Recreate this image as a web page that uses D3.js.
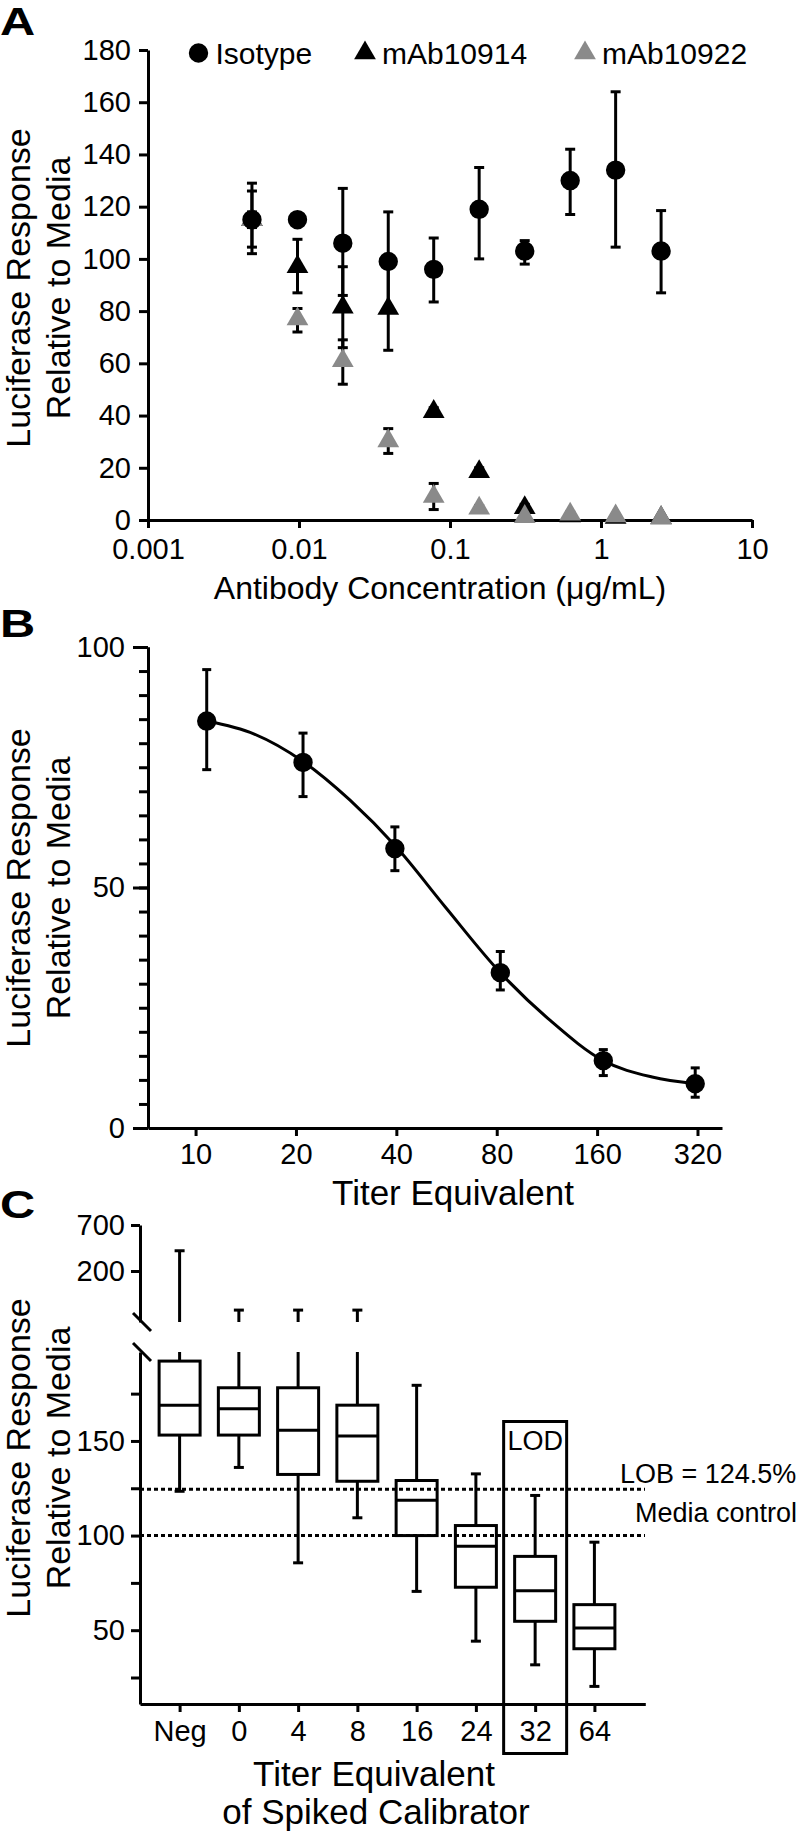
<!DOCTYPE html>
<html><head><meta charset="utf-8">
<script src="https://cdn.jsdelivr.net/npm/d3@7"></script>
<style>body{margin:0;background:#fff} svg{display:block}</style>
</head><body>
<svg id="c" width="798" height="1833"></svg>
<script>
// ---------- Panel A data ----------
const concA = [0.00488, 0.00977, 0.0195, 0.039, 0.078, 0.156, 0.3125, 0.625, 1.25, 2.5];
const isoMean = [115, 115, 106, 99, 96, 119, 103, 130, 134, 103];
const isoLo   = [102, 113, 86, 80, 83.5, 100, 98, 117, 104.5, 87];
const isoHi   = [129, 117, 127, 118, 108, 135, 107, 142, 164, 118.5];
const m14Mean = [115, 97, 81.5, 81, 41.5, 18.5, 4.7, 1.5, 1, 0.8];
const m14Lo   = [104.5, 87, 66, 65, 40, 17, 3.5, 1, 0.5, 0.5];
const m14Hi   = [126, 107.5, 97, 97, 43, 20, 6, 2, 1.5, 1];
const m22Mean = [115, 77, 61, 30.3, 9, 4.5, 1.3, 2.2, 1.5, 0.9];
const m22Lo   = [112, 72, 52, 25.5, 4, 3.5, 0.5, 1.5, 1, 0.5];
const m22Hi   = [118, 81, 69, 35, 14, 5.5, 2, 3, 2, 1.5];
const yTicksA = [0, 20, 40, 60, 80, 100, 120, 140, 160, 180];
const xTicksA = [0.001, 0.01, 0.1, 1, 10];
const xTickLabelsA = ["0.001", "0.01", "0.1", "1", "10"];
const legendA = ["Isotype", "mAb10914", "mAb10922"];

// ---------- Panel B data ----------
const titerB = [10.8, 21, 39.6, 82, 167, 315];
const meanB  = [84.6, 76.0, 58.1, 32.3, 14.0, 9.2];
const loB    = [74.5, 68.9, 53.5, 28.7, 10.9, 6.4];
const hiB    = [95.3, 82.1, 62.6, 36.7, 16.3, 12.5];
const curveXB = [10.8, 15, 21, 29, 40, 56, 82, 116, 167, 234, 315];
const curveYB = [84.6, 81.9, 76.2, 68.2, 58.4, 46.0, 32.3, 22.3, 14.0, 10.6, 9.2];
const xTicksB = [10, 20, 40, 80, 160, 320];
const yMajorB = [0, 50, 100];

// ---------- Panel C data ----------
const catsC = ["Neg", "0", "4", "8", "16", "24", "32", "64"];
const whLoC  = [123.4, 136, 85.6, 109.4, 70.5, 44.2, 31.7, 20.3];
const q1C    = [153.1, 153.1, 132.3, 128.7, 100, 72.7, 54.7, 40.2];
const medC   = [168.9, 167, 155.7, 152.6, 118.7, 94.3, 70.9, 51.2];
const q3C    = [192.2, 178.1, 178.1, 168.9, 129.1, 105.3, 89.0, 63.5];
const whHiC  = [420, 197.7, 197.7, 197.7, 179.4, 132.6, 121.2, 96.5];
const lobValue = 124.5;
const mediaValue = 100;
const yTicksUpperC = [200, 700];
const yTicksLowerC = [25, 50, 75, 100, 125, 150, 175];
const yLabelsLowerC = [50, 100, 150];

// ---------- helpers ----------
const FONT = '"Liberation Sans", Arial, Helvetica, sans-serif';
const svg = d3.select("#c");
const GRAY = "#8a8a8a";
const TICK_FS = 29;

function styleAxis(g, fs) {
  g.select(".domain").attr("stroke", "#000").attr("stroke-width", 3);
  g.selectAll(".tick line").attr("stroke", "#000").attr("stroke-width", 3);
  g.selectAll("text").attr("font-family", FONT).attr("font-size", fs).attr("fill", "#000");
}
function text(x, y, s, fs, anchor, weight) {
  return svg.append("text").attr("x", x).attr("y", y).text(s)
    .attr("font-family", FONT).attr("font-size", fs)
    .attr("text-anchor", anchor || "start").attr("font-weight", weight || "normal");
}
function panelLetter(y, s) {
  svg.append("text").attr("transform", `translate(0,${y}) scale(1.25,1)`)
    .attr("font-family", FONT).attr("font-size", 39).attr("font-weight", "bold").text(s);
}
function yTitle(cy, x1, x2) {
  const g = svg.append("g");
  [["Luciferase Response", x1], ["Relative to Media", x2]].forEach(([s, x]) => {
    g.append("text").attr("transform", `translate(${x},${cy}) rotate(-90)`)
      .attr("text-anchor", "middle").attr("font-family", FONT).attr("font-size", 34).text(s);
  });
}
function errBars(g, xs, los, his, x, y, cap) {
  xs.forEach((xv, i) => {
    const px = x(xv), y1 = y(los[i]), y2 = y(his[i]);
    g.append("line").attr("x1", px).attr("x2", px).attr("y1", y1).attr("y2", y2);
    g.append("line").attr("x1", px - cap / 2).attr("x2", px + cap / 2).attr("y1", y1).attr("y2", y1);
    g.append("line").attr("x1", px - cap / 2).attr("x2", px + cap / 2).attr("y1", y2).attr("y2", y2);
  });
  g.attr("stroke", "#000").attr("stroke-width", 3);
}
const circ = d3.symbol().type(d3.symbolCircle).size(Math.PI * 9.7 * 9.7);
const tri = d3.symbol().type(d3.symbolTriangle).size(205);

// ================= PANEL A =================
const xA = d3.scaleLog().domain([0.001, 10]).range([148, 752]);
const yA = d3.scaleLinear().domain([0, 180]).range([520, 50]);

panelLetter(35, "A");
svg.append("g").attr("transform", "translate(148,0)")
  .call(d3.axisLeft(yA).tickValues(yTicksA).tickSize(9).tickPadding(8).tickSizeOuter(0))
  .call(g => styleAxis(g, TICK_FS));
svg.append("g").attr("transform", "translate(0,520)")
  .call(d3.axisBottom(xA).tickValues(xTicksA).tickFormat((d, i) => xTickLabelsA[i]).tickSize(8).tickPadding(10).tickSizeOuter(0))
  .call(g => styleAxis(g, TICK_FS));
yTitle(288, 30, 70);
text(440, 599, "Antibody Concentration (\u03BCg/mL)", 32, "middle");

// series
errBars(svg.append("g"), concA, m14Lo, m14Hi, xA, yA, 10);
svg.append("g").selectAll("path").data(concA).join("path")
  .attr("d", tri).attr("transform", (d, i) => `translate(${xA(d)},${yA(m14Mean[i])})`).attr("fill", "#000");
errBars(svg.append("g"), concA, m22Lo, m22Hi, xA, yA, 10);
svg.append("g").selectAll("path").data(concA).join("path")
  .attr("d", tri).attr("transform", (d, i) => `translate(${xA(d)},${yA(m22Mean[i])})`).attr("fill", GRAY);
errBars(svg.append("g"), concA, isoLo, isoHi, xA, yA, 10);
svg.append("g").selectAll("path").data(concA).join("path")
  .attr("d", circ).attr("transform", (d, i) => `translate(${xA(d)},${yA(isoMean[i])})`).attr("fill", "#000");

// legend
const legX = [198.5, 365, 585];
const legSym = [circ, tri, tri];
const legCol = ["#000", "#000", GRAY];
legendA.forEach((s, i) => {
  svg.append("path").attr("d", legSym[i]).attr("transform", `translate(${legX[i]},53)`).attr("fill", legCol[i]);
  text(legX[i] + 17, 64, s, 30);
});

// ================= PANEL B =================
const xB = d3.scaleLog().base(2).domain([7.2, 379]).range([148, 722]);
const yB = d3.scaleLinear().domain([0, 100]).range([1128, 647]);

panelLetter(637, "B");
svg.append("g").attr("transform", "translate(148,0)")
  .call(d3.axisLeft(yB).tickValues(d3.range(0, 101, 5)).tickSize(9).tickFormat("").tickSizeOuter(0))
  .call(g => styleAxis(g, TICK_FS));
svg.append("g").attr("transform", "translate(148,0)")
  .call(d3.axisLeft(yB).tickValues(yMajorB).tickSize(15).tickPadding(8).tickSizeOuter(0))
  .call(g => styleAxis(g, TICK_FS));
svg.append("g").attr("transform", "translate(0,1128)")
  .call(d3.axisBottom(xB).tickValues(xTicksB).tickFormat(d3.format("d")).tickSize(8).tickPadding(7).tickSizeOuter(0))
  .call(g => styleAxis(g, TICK_FS));
yTitle(888, 30, 70);
text(453, 1205, "Titer Equivalent", 35, "middle");

svg.append("path").datum(curveXB.map((x, i) => [x, curveYB[i]]))
  .attr("d", d3.line().x(d => xB(d[0])).y(d => yB(d[1])).curve(d3.curveMonotoneX))
  .attr("fill", "none").attr("stroke", "#000").attr("stroke-width", 3);
errBars(svg.append("g"), titerB, loB, hiB, xB, yB, 9);
svg.append("g").selectAll("path").data(titerB).join("path")
  .attr("d", circ).attr("transform", (d, i) => `translate(${xB(d)},${yB(meanB[i])})`).attr("fill", "#000");

// ================= PANEL C =================
const xC = d3.scalePoint().domain(catsC).range([140, 645.3]).padding(0.7636).align(0.4376);
const yLow = d3.scaleLinear().domain([11, 197]).range([1704, 1352]);
const yUp = d3.scaleLinear().domain([197, 200, 700]).range([1322, 1271, 1225]);

panelLetter(1218, "C");
svg.append("g").attr("transform", "translate(140,0)")
  .call(d3.axisLeft(yUp).tickValues(yTicksUpperC).tickSize(9).tickPadding(6).tickSizeOuter(0))
  .call(g => styleAxis(g, TICK_FS));
svg.append("g").attr("transform", "translate(140,0)")
  .call(d3.axisLeft(yLow).tickValues(yTicksLowerC).tickFormat(d => yLabelsLowerC.includes(d) ? d : "")
    .tickSize(9).tickPadding(6).tickSizeOuter(0))
  .call(g => styleAxis(g, TICK_FS));
// axis break marks
svg.append("g").attr("stroke", "#000").attr("stroke-width", 3).selectAll("line")
  .data([yUp(197), yLow(197)]).join("line")
  .attr("x1", 133).attr("x2", 151).attr("y1", d => d - 9).attr("y2", d => d + 9);

svg.append("g").attr("transform", "translate(0,1704)")
  .call(d3.axisBottom(xC).tickSize(8).tickPadding(8).tickSizeOuter(0))
  .call(g => styleAxis(g, TICK_FS));
yTitle(1458, 30, 70);
text(374, 1786, "Titer Equivalent", 35, "middle");
text(376, 1824, "of Spiked Calibrator", 35, "middle");

// boxes
const bw = 41, capC = 10;
const gC = svg.append("g").attr("stroke", "#000").attr("stroke-width", 3);
catsC.forEach((c, i) => {
  const cx = xC(c);
  gC.append("line").attr("x1", cx).attr("x2", cx).attr("y1", yLow(q1C[i])).attr("y2", yLow(whLoC[i]));
  gC.append("line").attr("x1", cx - capC / 2).attr("x2", cx + capC / 2).attr("y1", yLow(whLoC[i])).attr("y2", yLow(whLoC[i]));
  const top = yLow.domain()[1];
  if (whHiC[i] <= top) {
    gC.append("line").attr("x1", cx).attr("x2", cx).attr("y1", yLow(q3C[i])).attr("y2", yLow(whHiC[i]));
    gC.append("line").attr("x1", cx - capC / 2).attr("x2", cx + capC / 2).attr("y1", yLow(whHiC[i])).attr("y2", yLow(whHiC[i]));
  } else {
    gC.append("line").attr("x1", cx).attr("x2", cx).attr("y1", yLow(q3C[i])).attr("y2", yLow(top));
    gC.append("line").attr("x1", cx).attr("x2", cx).attr("y1", yUp(top)).attr("y2", yUp(whHiC[i]));
    gC.append("line").attr("x1", cx - capC / 2).attr("x2", cx + capC / 2).attr("y1", yUp(whHiC[i])).attr("y2", yUp(whHiC[i]));
  }
  gC.append("rect").attr("x", cx - bw / 2).attr("width", bw)
    .attr("y", yLow(q3C[i])).attr("height", yLow(q1C[i]) - yLow(q3C[i])).attr("fill", "#fff");
  gC.append("line").attr("x1", cx - bw / 2).attr("x2", cx + bw / 2).attr("y1", yLow(medC[i])).attr("y2", yLow(medC[i]));
});

// reference lines
[lobValue, mediaValue].forEach(v => {
  svg.append("line").attr("x1", 140).attr("x2", 645).attr("y1", yLow(v)).attr("y2", yLow(v))
    .attr("stroke", "#000").attr("stroke-width", 3).attr("stroke-dasharray", "4,3");
});
text(620, yLow(lobValue) - 6, "LOB = " + lobValue + "%", 27);
text(635, yLow(mediaValue) - 14, "Media control", 27);

// LOD frame
const lodX = xC("32");
svg.append("rect").attr("x", lodX - 31.5).attr("width", 63).attr("y", 1421.5).attr("height", 332)
  .attr("fill", "none").attr("stroke", "#000").attr("stroke-width", 3);
text(lodX, 1450, "LOD", 27, "middle");
</script>
</body></html>
